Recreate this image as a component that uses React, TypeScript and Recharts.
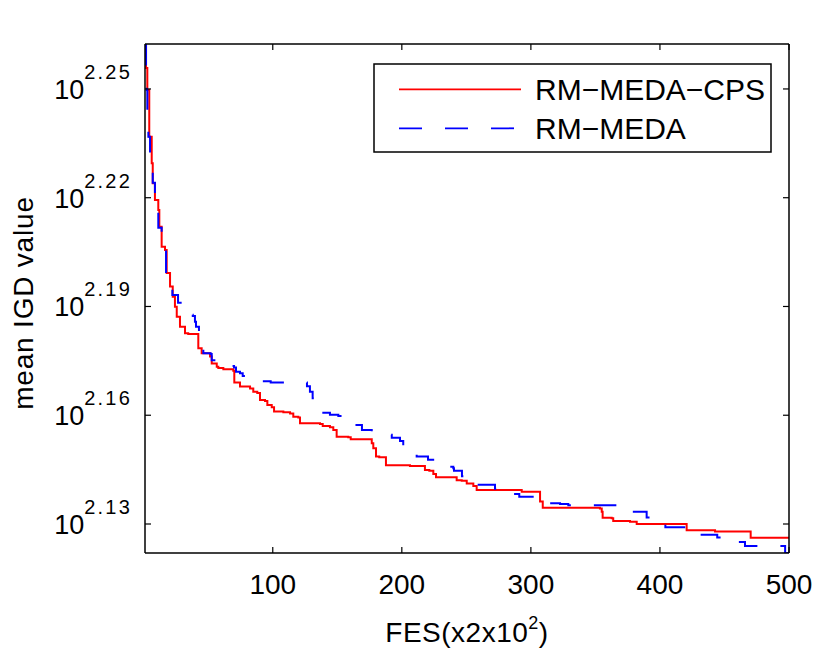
import React from 'react';
import { LineChart, Line, XAxis, YAxis, Legend } from 'recharts';

// RM-MEDA-CPS: FES (x2x10^2) where a new level starts, and log10 of mean IGD
const cpsFes = [
  1, 1.8, 2.8, 4.3, 6.2, 7, 8.7, 11.3, 12.1, 13.9,
  16.5, 17.8, 20.4, 22.5, 24.2, 25.6, 28.1, 32, 34.5, 42.3,
  44.9, 51.4, 52.7, 56.6, 57.8, 61.7, 69.4, 70.2, 74.6, 82.4,
  84.9, 88, 90.1, 94, 95.8, 99.2, 101, 108.2, 113.4, 115.9,
  119.8, 121.1, 136.6, 138.7, 144.3, 146.9, 149.5, 158.5, 160.4, 176.7,
  177.9, 180, 182.5, 187.7, 206.3, 217.9, 221.3, 224.4, 226.5, 242.5,
  246.4, 250.3, 255.4, 258, 292.9, 307.1, 309.2, 353.5, 354.9, 355.6,
  362.6, 363.8, 376.8, 382, 420.7, 442.7, 470.3, 500,
];
const cpsIgd = [
  2.2624, 2.2558, 2.2497, 2.2368, 2.2295, 2.224, 2.2194, 2.2166, 2.212, 2.2065,
  2.2056, 2.1992, 2.1955, 2.1927, 2.1899, 2.1872, 2.1844, 2.1826, 2.1824, 2.1785,
  2.1771, 2.1762, 2.1743, 2.1734, 2.173, 2.1727, 2.1723, 2.169, 2.1679, 2.1674,
  2.1665, 2.1661, 2.1642, 2.1639, 2.1628, 2.1622, 2.161, 2.1608, 2.1605, 2.1596,
  2.1594, 2.1578, 2.1576, 2.157, 2.1567, 2.1559, 2.1541, 2.1539, 2.1534, 2.1523,
  2.1509, 2.1486, 2.1484, 2.1462, 2.146, 2.1449, 2.1447, 2.1438, 2.1429, 2.1421,
  2.1419, 2.1412, 2.1405, 2.1394, 2.1389, 2.1362, 2.1345, 2.1343, 2.1334, 2.1317,
  2.1316, 2.1308, 2.1306, 2.13, 2.1283, 2.1279, 2.1262, 2.1262,
];

// RM-MEDA
const medaFes = [
  1, 1.8, 2.3, 2.8, 3.6, 4.9, 7, 8.7, 11.3, 13.9,
  17.3, 22.2, 26.6, 32, 35.9, 38, 39.7, 40.5, 42.8, 44.9,
  46.2, 51.9, 52.7, 57.6, 70, 71.5, 74.6, 76.7, 79.8, 81.8,
  90.1, 98.4, 126.5, 128.8, 130.9, 131.9, 134, 144.3, 150.8, 161.9,
  169.1, 176.7, 180.5, 192.2, 198.6, 201.1, 211.5, 220.3, 227, 234.8,
  239.9, 240.4, 246.6, 252.3, 253.4, 272.2, 284.4, 291, 304.7, 314.8,
  322.6, 329, 370.6, 389.7, 398.5, 404.2, 431, 444.4, 458.2, 465.9,
  497, 500,
];
const medaIgd = [
  2.2624, 2.2562, 2.2497, 2.2433, 2.2368, 2.2304, 2.2241, 2.218, 2.2117, 2.2056,
  2.1992, 2.1932, 2.191, 2.1888, 2.1877, 2.1874, 2.1858, 2.1844, 2.1808, 2.1785,
  2.1771, 2.1769, 2.1752, 2.1736, 2.1732, 2.172, 2.1716, 2.1708, 2.1706, 2.1702,
  2.1694, 2.169, 2.168, 2.1665, 2.1647, 2.1619, 2.1607, 2.1601, 2.1598, 2.1573,
  2.1559, 2.1552, 2.1546, 2.1538, 2.1529, 2.1517, 2.1486, 2.1477, 2.1469, 2.1458,
  2.1454, 2.1447, 2.1432, 2.1419, 2.1408, 2.1397, 2.1383, 2.1375, 2.1369, 2.1357,
  2.1355, 2.1352, 2.1334, 2.1318, 2.1303, 2.1291, 2.127, 2.1263, 2.125, 2.1239,
  2.122, 2.122,
];

const fesTicks = [100, 200, 300, 400, 500];
const igdTicks = [2.13, 2.16, 2.19, 2.22, 2.25];

const FONT = '"Liberation Sans", Arial, Helvetica, sans-serif';

const cpsData = cpsFes.map((fes, i) => ({ fes, igd: cpsIgd[i] }));
const medaData = medaFes.map((fes, i) => ({ fes, igd: medaIgd[i] }));

const BottomTick = ({ x, y, payload }: any) => (
  <g>
    <line x1={x} y1={y} x2={x} y2={y - 6} stroke="#000" strokeWidth={1.2} />
    <text x={x} y={y + 41} textAnchor="middle" fontSize={28} fontFamily={FONT} fill="#000">
      {payload.value}
    </text>
  </g>
);

const TopTick = ({ x, y }: any) => (
  <line x1={x} y1={y} x2={x} y2={y + 6} stroke="#000" strokeWidth={1.2} />
);

const LeftTick = ({ x, y, payload }: any) => (
  <g>
    <line x1={x} y1={y} x2={x + 6} y2={y} stroke="#000" strokeWidth={1.2} />
    <text x={x - 13} y={y + 10} textAnchor="end" fontFamily={FONT} fill="#000">
      <tspan fontSize={27}>10</tspan>
      <tspan fontSize={20} dy={-20} letterSpacing={2.2}>
        {payload.value.toFixed(2)}
      </tspan>
    </text>
  </g>
);

const RightTick = ({ x, y }: any) => (
  <line x1={x} y1={y} x2={x - 6} y2={y} stroke="#000" strokeWidth={1.2} />
);

const LegendBox = () => (
  <svg width={400} height={92} style={{ display: 'block' }}>
    <rect x={1} y={1} width={397} height={88} fill="#fff" stroke="#000" strokeWidth={1.5} />
    <line x1={26} y1={26.3} x2={148} y2={26.3} stroke="#ff0000" strokeWidth={1.8} />
    <text x={162} y={37} fontSize={30} fontFamily={FONT} fill="#000">RM−MEDA−CPS</text>
    <line x1={26} y1={65.3} x2={148} y2={65.3} stroke="#0000ff" strokeWidth={1.8} strokeDasharray="23 23" />
    <text x={162} y={76.3} fontSize={30} fontFamily={FONT} fill="#000">RM−MEDA</text>
  </svg>
);

export default function App() {
  return (
    <div style={{ position: 'absolute', left: 0, top: 0, width: 830, height: 650, background: '#fff' }}>
      <LineChart width={830} height={650} margin={{ top: 43, right: 40, left: 0, bottom: 0 }}>
        <XAxis
          dataKey="fes"
          type="number"
          domain={[1, 500]}
          ticks={fesTicks}
          interval={0}
          allowDataOverflow
          height={97}
          tickSize={0}
          tickMargin={0}
          tick={<BottomTick />}
          axisLine={{ stroke: '#000', strokeWidth: 1.5 }}
          label={{
            content: () => (
              <text x={467} y={642} textAnchor="middle" fontSize={28} letterSpacing={0.5} fontFamily={FONT} fill="#000">
                FES(x2x10
                <tspan fontSize={18} dy={-13}>2</tspan>
                <tspan dy={13}>)</tspan>
              </text>
            ),
          }}
        />
        <XAxis
          xAxisId="top"
          orientation="top"
          dataKey="fes"
          type="number"
          domain={[1, 500]}
          ticks={fesTicks}
          interval={0}
          allowDataOverflow
          height={1}
          tickSize={0}
          tickMargin={0}
          tick={<TopTick />}
          axisLine={{ stroke: '#000', strokeWidth: 1.5 }}
        />
        <YAxis
          type="number"
          domain={[2.122, 2.2624]}
          ticks={igdTicks}
          interval={0}
          allowDataOverflow
          width={145}
          tickSize={0}
          tickMargin={0}
          tick={<LeftTick />}
          axisLine={{ stroke: '#000', strokeWidth: 1.5 }}
          label={{
            content: () => (
              <text
                x={33}
                y={303}
                transform="rotate(-90 33 303)"
                textAnchor="middle"
                fontSize={28}
                letterSpacing={0.8}
                fontFamily={FONT}
                fill="#000"
              >
                mean IGD value
              </text>
            ),
          }}
        />
        <YAxis
          yAxisId="right"
          orientation="right"
          type="number"
          domain={[2.122, 2.2624]}
          ticks={igdTicks}
          interval={0}
          allowDataOverflow
          width={1}
          tickSize={0}
          tickMargin={0}
          tick={<RightTick />}
          axisLine={{ stroke: '#000', strokeWidth: 1.5 }}
        />
        <Line
          data={cpsData}
          dataKey="igd"
          name="RM-MEDA-CPS"
          type="stepAfter"
          stroke="#ff0000"
          strokeWidth={2}
          dot={false}
          activeDot={false}
          isAnimationActive={false}
        />
        <Line
          data={medaData}
          dataKey="igd"
          name="RM-MEDA"
          type="stepAfter"
          stroke="#0000ff"
          strokeWidth={2}
          strokeDasharray="22.5 23"
          dot={false}
          activeDot={false}
          isAnimationActive={false}
        />
        {/* invisible copy bound to the top/right axes so the frame is drawn */}
        <Line
          data={cpsData}
          dataKey="igd"
          xAxisId="top"
          yAxisId="right"
          type="stepAfter"
          stroke="none"
          dot={false}
          activeDot={false}
          legendType="none"
          isAnimationActive={false}
        />
        <Legend
          layout="vertical"
          align="center"
          verticalAlign="middle"
          content={() => <LegendBox />}
          wrapperStyle={{ left: 373, top: 63, width: 400, height: 92 }}
        />
      </LineChart>
    </div>
  );
}
